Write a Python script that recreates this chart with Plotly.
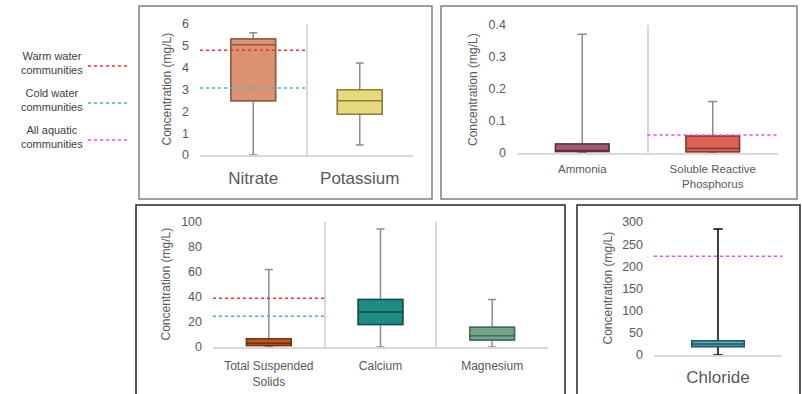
import plotly.graph_objects as go

W, H = 802, 394

# ---------------- data ----------------
p1_cats = ["Nitrate", "Potassium"]
p1_low = [0.0, 0.46]
p1_q1 = [2.48, 1.87]
p1_med = [5.05, 2.48]
p1_q3 = [5.31, 2.99]
p1_high = [5.6, 4.21]

p2_cats = ["Ammonia", "Soluble Reactive<br>Phosphorus"]
p2_low = [0.0, 0.0]
p2_q1 = [0.005, 0.004]
p2_med = [0.008, 0.014]
p2_q3 = [0.028, 0.053]
p2_high = [0.371, 0.161]

p3_cats = ["Total Suspended<br>Solids", "Calcium", "Magnesium"]
p3_low = [0.0, 0.0, 0.0]
p3_q1 = [1.3, 18.0, 5.6]
p3_med = [3.0, 28.0, 9.0]
p3_q3 = [6.7, 38.0, 15.8]
p3_high = [62.0, 94.5, 38.0]

p4_cats = ["Chloride"]
p4_low = [0.0]
p4_q1 = [19.0]
p4_med = [25.0]
p4_q3 = [32.0]
p4_high = [284.0]

# guideline values
warm_nitrate = 4.8
cold_nitrate = 3.07
all_srp = 0.056
warm_tss = 39.0
cold_tss = 24.7
all_chloride = 223.0

y_title = "Concentration (mg/L)"
legend_labels = ["Warm water<br>communities", "Cold water<br>communities", "All aquatic<br>communities"]

# ---------------- styles ----------------
fills = {
    "Nitrate": ("#DC9170", "#8E5A44"),
    "Potassium": ("#E6D97E", "#8A7D3C"),
    "Ammonia": ("#A3596E", "#5A2E3C"),
    "Soluble Reactive<br>Phosphorus": ("#DC6150", "#873A30"),
    "Total Suspended<br>Solids": ("#C0581C", "#6E3210"),
    "Calcium": ("#1E8C82", "#0F4F4A"),
    "Magnesium": ("#72A58A", "#3D6B55"),
    "Chloride": ("#50A8B8", "#1F5A66"),
}
RED = "#F03030"
BLUE = "#40B0E0"
MAG = "#FF40FF"
FONT = "Liberation Sans, Arial, sans-serif"
TICKC = "#595959"


def px_x(v):
    return v / W


def px_y(v):
    return 1 - v / H


fig = go.Figure()

panels = [
    dict(cats=p1_cats, low=p1_low, q1=p1_q1, med=p1_med, q3=p1_q3, high=p1_high,
         dom_x=(200, 413), dom_y=(24, 155), yr=[0, 6], dt=1, catfont=17, wh="#8C8C8C",
         bw=0.42, cstand=7, tx=166),
    dict(cats=p2_cats, low=p2_low, q1=p2_q1, med=p2_med, q3=p2_q3, high=p2_high,
         dom_x=(517, 778), dom_y=(25, 153), yr=[0, 0.4], dt=0.1, catfont=11.5, wh="#8C8C8C",
         bw=0.41, cstand=4, tx=473),
    dict(cats=p3_cats, low=p3_low, q1=p3_q1, med=p3_med, q3=p3_q3, high=p3_high,
         dom_x=(213, 548), dom_y=(222, 347), yr=[0, 100], dt=20, catfont=12, wh="#8C8C8C",
         bw=0.4, cstand=7, tx=165),
    dict(cats=p4_cats, low=p4_low, q1=p4_q1, med=p4_med, q3=p4_q3, high=p4_high,
         dom_x=(654, 782), dom_y=(222, 355), yr=[0, 300], dt=50, catfont=17, wh="#000000",
         bw=0.41, cstand=6, tx=607),
]

annotations = []

for i, p in enumerate(panels, start=1):
    xa = "x" if i == 1 else f"x{i}"
    ya = "y" if i == 1 else f"y{i}"
    for j, c in enumerate(p["cats"]):
        fill, edge = fills[c]
        # whiskers
        fig.add_trace(go.Box(
            x=[c], q1=[p["q1"][j]], median=[p["med"][j]], q3=[p["q3"][j]],
            lowerfence=[p["low"][j]], upperfence=[p["high"][j]],
            xaxis=xa, yaxis=ya, width=p["bw"], whiskerwidth=0.18,
            line=dict(color=p["wh"], width=1.5), fillcolor="rgba(0,0,0,0)",
            boxpoints=False, showlegend=False, hoverinfo="skip"))
        # box
        fig.add_trace(go.Box(
            x=[c], q1=[p["q1"][j]], median=[p["med"][j]], q3=[p["q3"][j]],
            lowerfence=[p["q1"][j]], upperfence=[p["q3"][j]],
            xaxis=xa, yaxis=ya, width=p["bw"], whiskerwidth=0,
            line=dict(color=edge, width=1.5), fillcolor=fill,
            boxpoints=False, showlegend=False, name=c.replace("<br>", " ")))

    n = len(p["cats"])
    xkey = "xaxis" if i == 1 else f"xaxis{i}"
    ykey = "yaxis" if i == 1 else f"yaxis{i}"
    fig.update_layout(**{
        xkey: dict(domain=[px_x(p["dom_x"][0]), px_x(p["dom_x"][1])], anchor=ya,
                   type="category", categoryorder="array", categoryarray=p["cats"],
                   range=[-0.5, n - 0.5], tickson="boundaries", ticks="",
                   showgrid=True, gridcolor="#D9D9D9", gridwidth=1.5,
                   showline=True, linecolor="#D9D9D9", linewidth=2,
                   tickfont=dict(size=p["catfont"], color=TICKC, family=FONT),
                   ticklabelstandoff=p["cstand"], automargin=False, fixedrange=True),
        ykey: dict(domain=[px_y(p["dom_y"][1]), px_y(p["dom_y"][0])], anchor=xa,
                   range=p["yr"], dtick=p["dt"], showgrid=False, zeroline=False,
                   showline=False, ticks="", ticklabelstandoff=10,
                   tickfont=dict(size=12.5, color=TICKC, family=FONT),
                   automargin=False, fixedrange=True),
    })
    # y-axis title
    annotations.append(dict(xref="paper", yref="paper", x=px_x(p["tx"]),
                            y=px_y((p["dom_y"][0] + p["dom_y"][1]) / 2),
                            text=y_title, textangle=-90, showarrow=False,
                            xanchor="center", yanchor="middle",
                            font=dict(size=12, color=TICKC, family=FONT)))

shapes = []


def hline(xref, yref, x0, x1, y, color):
    shapes.append(dict(type="line", xref=xref, yref=yref, x0=x0, x1=x1, y0=y, y1=y,
                       line=dict(color=color, width=1.5, dash="dot"), layer="above"))


hline("x", "y", -0.5, 0.5, warm_nitrate, RED)
hline("x", "y", -0.5, 0.5, cold_nitrate, BLUE)
hline("x2", "y2", 0.5, 1.5, all_srp, MAG)
hline("x3", "y3", -0.5, 0.5, warm_tss, RED)
hline("x3", "y3", -0.5, 0.5, cold_tss, BLUE)
hline("x4", "y4", -0.5, 0.5, all_chloride, MAG)

# panel frames
frames = [((139, 6), (432, 199), "#7F7F7F"), ((441, 6), (797, 199), "#7F7F7F"),
          ((136, 205), (565, 400), "#262626"), ((577, 205), (800, 400), "#262626")]
for (x0, y0), (x1, y1), col in frames:
    shapes.append(dict(type="rect", xref="paper", yref="paper",
                       x0=px_x(x0), x1=px_x(x1), y0=px_y(y1), y1=px_y(y0),
                       line=dict(color=col, width=1.5), fillcolor="rgba(0,0,0,0)"))

# legend
leg_y = [66, 103, 140]
leg_col = [RED, BLUE, MAG]
for lab, yy, col in zip(legend_labels, leg_y, leg_col):
    shapes.append(dict(type="line", xref="paper", yref="paper",
                       x0=px_x(88), x1=px_x(128), y0=px_y(yy), y1=px_y(yy),
                       line=dict(color=col, width=1.5, dash="dot")))
    annotations.append(dict(xref="paper", yref="paper", x=px_x(52), y=px_y(yy - 3),
                            text=lab, showarrow=False, xanchor="center", yanchor="middle",
                            font=dict(size=11, color="#404040", family=FONT)))

fig.update_layout(
    width=W, height=H, margin=dict(l=0, r=0, t=0, b=0, autoexpand=False),
    paper_bgcolor="white", plot_bgcolor="white",
    boxmode="overlay", showlegend=False,
    shapes=shapes, annotations=annotations,
)

fig.write_html("out.html", config={"displayModeBar": False},
               post_script="document.body.style.margin='0';document.body.style.overflow='hidden';")
